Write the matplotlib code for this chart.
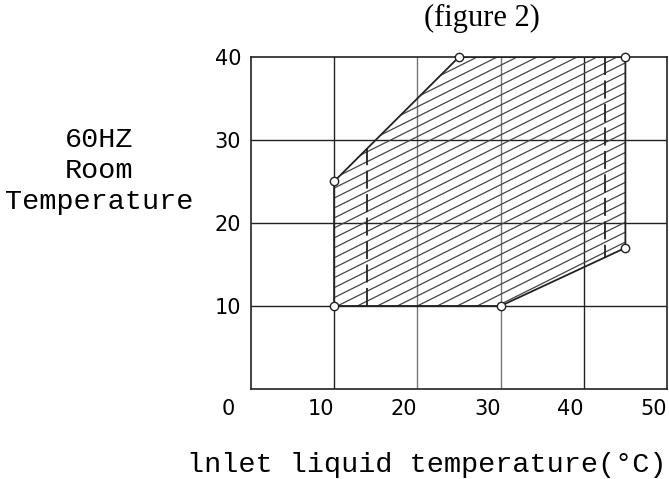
import numpy as np
import matplotlib
matplotlib.use('Agg')
import matplotlib.pyplot as plt
from matplotlib.patches import Polygon
import matplotlib.transforms as mtransforms

# operating area corners (inlet temp, room temp)
area_x = [10, 10, 25, 45, 45, 30]
area_y = [10, 25, 40, 40, 17, 10]

# dashed limit lines
dash_left_x = [14, 14]
dash_left_y = [10, 29]
dash_right_x = [42.6, 42.6]
dash_right_y = [40, 15.9]

xticks = [0, 10, 20, 30, 40, 50]
yticks = [10, 20, 30, 40]

fig = plt.figure(figsize=(6.69, 4.79), dpi=100)
ax = fig.add_axes([0.375, 0.188, 0.622, 0.693])
ax.set_xlim(0, 50)
ax.set_ylim(0, 40)

# grid
for gx, col in zip([10, 20, 30, 40], ['#222222', '#777777', '#777777', '#222222']):
    ax.axvline(gx, color=col, lw=1.0, zorder=1)
for gy in [10, 20, 30]:
    ax.axhline(gy, color='#222222', lw=1.0, zorder=1)

# hatched area
poly = Polygon(list(zip(area_x, area_y)), closed=True, facecolor='none',
               edgecolor='none', zorder=2)
ax.add_patch(poly)
xs = np.array([0, 50])
for c in np.arange(-30, 45, 1.2):
    ln, = ax.plot(xs, 0.5 * xs + c, color='#444444', lw=0.9, zorder=2)
    ln.set_clip_path(poly)

# outline
ax.plot(area_x + [area_x[0]], area_y + [area_y[0]], color='#222222', lw=1.3, zorder=3)
ax.plot(dash_left_x, dash_left_y, color='#222222', lw=1.3, dashes=(10, 3), zorder=3)
ax.plot(dash_right_x, dash_right_y, color='#222222', lw=1.3, dashes=(10, 3), zorder=3)
ax.plot(area_x, area_y, 'o', ms=6, mfc='white', mec='#222222', mew=1.0,
        zorder=5, clip_on=False)

for s in ax.spines.values():
    s.set_linewidth(1.2)
    s.set_color('#222222')

ax.set_xticks(xticks)
ax.set_yticks(yticks)
ax.tick_params(length=0, labelsize=15, pad=7)
ax.set_xticklabels([str(v) for v in xticks], family='DejaVu Sans')
ax.set_yticklabels([str(v) for v in yticks], family='DejaVu Sans')
for lab in ax.get_xticklabels():
    lab.set_horizontalalignment('right')
lab0 = ax.get_xticklabels()[0]
lab0.set_transform(lab0.get_transform() +
                   mtransforms.ScaledTranslation(-16 / 100, 0, fig.dpi_scale_trans))

fig.text(0.72, 0.962, '(figure 2)', family='Liberation Serif', fontsize=22,
         ha='center', va='center')
fig.text(0.148, 0.643, '60HZ\nRoom\nTemperature', family='Liberation Mono',
         fontsize=20.5, ha='center', va='center', linespacing=1.25)
fig.text(0.279, 0.0146, 'lnlet liquid temperature(°C)', family='Liberation Mono',
         fontsize=20.5, ha='left', va='baseline')

fig.savefig('out.png', dpi=100)
